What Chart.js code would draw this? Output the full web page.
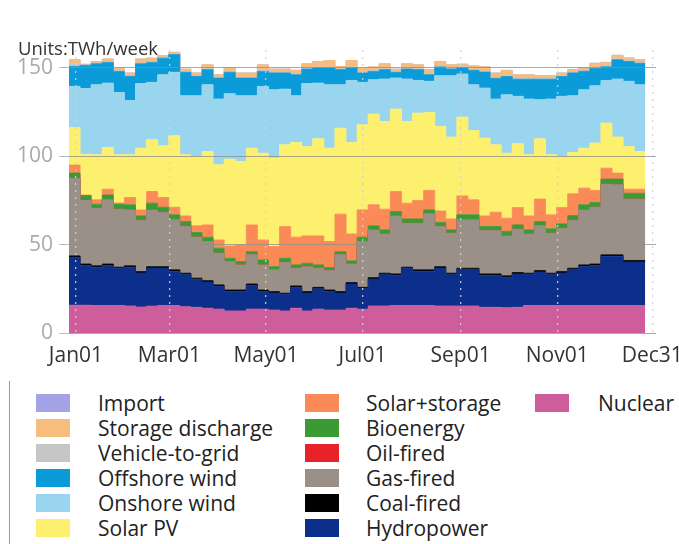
<!DOCTYPE html>
<html>
<head>
<meta charset="utf-8">
<script src="https://cdn.jsdelivr.net/npm/chart.js@4"></script>
<style>
  body { margin: 0; background: #fff; font-family: "Open Sans", sans-serif; }
  #wrap { position: relative; width: 679px; height: 544px; overflow: hidden; }
  #title { position: absolute; left: 18px; top: 35px; font-size: 18.5px; color: #333; }
  #chart { position: absolute; left: 0; top: 0; }
  #legend { position: absolute; left: 0; top: 0; }
  .item { position: absolute; height: 25px; line-height: 25px; font-size: 21px; color: #222; white-space: nowrap; }
  .box { position: absolute; width: 34px; height: 18px; top: 3px; }
  .lbl { position: absolute; }
  #rule { position: absolute; left: 9px; top: 381px; width: 1px; height: 163px; background: #999; }
</style>
</head>
<body>
<div id="wrap">
  <canvas id="chart" width="679" height="380"></canvas>
  <div id="title">Units:TWh/week</div>
  <div id="rule"></div>
  <div id="legend"></div>
</div>
<script>
// weekly values, TWh/week, 52 weeks from late Dec to late Dec
const nuclear = [15.7,15.7,15.5,15.5,15.5,15.3,14.7,15.2,15.5,15.5,14.8,14.5,14,13.5,12.5,12.5,13.5,13.5,
  13,12.5,14,12.5,13.5,13,13,14,13.5,15.3,15.3,15.5,15.5,15.5,15.5,15.3,15.3,
  15.3,15.3,14.5,14.5,14.3,14.5,15.5,15.5,15.5,15.5,15.5,15.5,15.5,15.5,15.5,15.5,15.5];
const hydropower = [27.1,22.5,21.7,22.7,20.9,21.9,19.2,21.5,21.2,19.4,18.2,15.7,14.8,12.9,11,11,13.4,10,
  9.6,9.2,11.8,10.1,11.5,10.5,9.6,13.7,11.5,15.2,17.7,17.1,20.9,19.4,19.4,21.4,17.7,
  20.5,20.5,18.1,18.1,17.2,18.9,17.5,19,17.5,18.4,20.3,22.2,22.7,27.9,27.9,24.7,24.7];
const coalFired = [0.8,0.8,0.8,0.8,0.8,0.8,0.8,0.8,0.8,0.8,0.8,0.8,0.8,0.8,0.8,0.8,0.8,0.8,
  0.8,0.8,0.8,0.8,0.8,0.8,0.8,0.8,0.8,0.8,0.8,0.8,0.8,0.8,0.8,0.8,0.8,
  0.8,0.8,0.8,0.8,0.8,0.8,0.8,0.8,0.8,0.8,0.8,0.8,0.8,0.8,0.8,0.8,0.8];
const gasFired = [43.9,36,32.6,36.3,32.8,31.6,28.9,32.1,30.6,28.3,26.4,23.2,22.1,17.9,16.1,14.2,16.5,14.2,
  12.3,17.3,10,14.1,10.8,11,20.8,10.5,25.9,27,22.2,32.8,24.8,26.3,31.7,22.7,22.6,
  27.4,27.4,24.5,24.5,22.6,24.5,22.2,25.3,22.6,24.5,27,31.1,32.1,40,39.6,34.7,34.7];
const oilFired = [0,0,0,0,0,0,0,0,0,0,0,0,0,0,0,0,0,0,
  0,0,0,0,0,0,0,0,0,0,0,0,0,0,0,0,0,
  0,0,0,0,0,0,0,0,0,0,0,0,0,0,0,0,0];
const bioenergy = [2.9,2.7,2.2,2.7,2.8,2.9,2.6,3.8,3,2.8,2.8,2.6,2.5,2.8,1.9,1.9,1.8,2.8,
  1.8,2.5,1.9,1.9,1.9,1.7,1.8,1.8,2.5,2.3,2.3,2.5,2.5,2.5,2.2,2.3,1.9,
  2.8,2.8,2.3,2.3,2.5,2.4,2.3,2.4,2.5,2.5,2.8,2.9,2.7,2.8,3.2,3.3,3.3];
const solarStorage = [4.6,0.3,2.5,3.3,0.7,4.1,3.4,6.6,5.5,4.3,3.2,3.8,6.9,4.7,6.9,9.4,15.1,11.3,
  11.4,17.9,15.7,15.5,16.4,14.7,21.2,15.2,15.4,11.9,11.7,11.3,8.9,10.4,11,6.5,6.2,
  10.7,8.5,6,8.1,7.5,9.8,7.9,12.7,7.9,9.2,12.3,9.4,6.8,6.2,3.4,2.3,2.3];
const solarPV = [21.2,23.1,25.5,23.6,27.3,24.2,34.9,29.2,29.2,40.4,34.6,39.2,41.5,42.5,49.1,47.2,43.4,49.1,
  50,46.2,53.5,50.6,54.9,52.8,48.6,51.7,48.1,51.3,49.6,46.6,46.2,49.4,44.1,47.8,46.3,
  44.6,39.2,44,38.1,36.8,36.1,34.6,34.1,34,28.9,23.4,22.6,26.8,25.5,20.4,24.2,21.3];
const onshoreWind = [23.2,37.1,39.6,36.4,35.2,30.7,36.5,32.5,40.2,35.9,33.4,34.4,37.8,37.2,37,37.2,29.7,37.7,
  38.6,31.5,26.5,35.5,31.5,35.9,24.6,35.1,24,19.4,24,17.6,24,18.5,17.6,28.7,34.7,
  24.4,25.9,28.3,25.9,33,26.8,31.5,22.1,31.5,34,32.1,33,32.4,24.1,32.8,36.8,37.8];
const offshoreWind = [11.3,13.1,11.8,11.7,11.9,13.6,11.2,11.3,9.4,10,13.2,10.9,8.5,11.8,12.1,9.9,9.9,8.5,
  9.5,9.1,11.8,8.2,8.5,9.4,8.5,7,5.3,4.7,5.3,3.2,5.6,6.1,3.7,4.9,3.7,
  3.5,8.1,9,11.7,10.3,9.7,11.2,11.6,11.2,11.2,12.8,10.5,9.7,7.7,10.9,11.2,12.1];
const vehicleToGrid = [1.5,0.5,0.5,0.5,0.5,0.5,0.5,0.5,0.5,0.5,0.5,0.5,0.5,0.5,0.5,0.5,0.5,0.5,
  0.5,0.5,0.5,0.5,0.5,0.5,0.5,0.5,0.5,0.5,0.5,0.5,0.5,0.5,0.5,0.5,0.5,
  0.5,0.5,0.5,0.5,0.5,0.5,0.5,0.5,0.5,0.5,0.5,0.5,0.5,0.5,0.5,0.5,0.5];
const storageDischarge = [2.3,0.1,0.8,1.4,1.4,1.4,2.2,1.9,0.9,0.8,1.3,1.4,2.2,1.4,1.9,2.4,2.4,3.2,
  1.7,1.7,2,2.5,3.2,3.7,1.3,3.7,2.3,2,2.8,1.3,2.5,2.2,2.4,2.6,1.9,
  1.5,2,2.5,2.5,3,2,2,1.5,1.5,1.5,1.5,1.5,2.5,2,2,1.5,1.5];
const importFlow = [0,0,0,0,0,0,0,0,0,0,0,0,0,0,0,0,0,0,
  0,0,0,0,0,0,0,0,0,0,0,0,0,0,0,0,0,
  0,0,0,0,0,0,0,0,0,0,0,0,0,0,0,0,0];

// x axis in day-of-year, week i starts at firstWeekDay + 7*i
const firstWeekDay = -4.4;
const xTickDays = [0, 59, 120, 181, 243, 304, 364];
const xTickLabels = ["Jan01", "Mar01", "May01", "Jul01", "Sep01", "Nov01", "Dec31"];
const yTicks = [0, 50, 100, 150];

// bottom of stack first
const series = [
  { name: "Nuclear", values: nuclear, color: "#cd5e9b" },
  { name: "Hydropower", values: hydropower, color: "#0b2f8b" },
  { name: "Coal-fired", values: coalFired, color: "#000000" },
  { name: "Gas-fired", values: gasFired, color: "#9b9088" },
  { name: "Oil-fired", values: oilFired, color: "#e8222b" },
  { name: "Bioenergy", values: bioenergy, color: "#3a9b35" },
  { name: "Solar+storage", values: solarStorage, color: "#fa8a57" },
  { name: "Solar PV", values: solarPV, color: "#fdf06e" },
  { name: "Onshore wind", values: onshoreWind, color: "#9ad5ef" },
  { name: "Offshore wind", values: offshoreWind, color: "#0b9bd8" },
  { name: "Vehicle-to-grid", values: vehicleToGrid, color: "#c6c6c6" },
  { name: "Storage discharge", values: storageDischarge, color: "#f6bd7e" },
  { name: "Import", values: importFlow, color: "#a3a3e6" }
];

function toPoints(values) {
  const pts = values.map((v, i) => ({ x: firstWeekDay + 7 * i, y: v }));
  pts.push({ x: firstWeekDay + 7 * values.length, y: values[values.length - 1] });
  return pts;
}

const datasets = series.map((s, i) => ({
  label: s.name,
  data: toPoints(s.values),
  backgroundColor: s.color,
  borderColor: s.color,
  borderWidth: 0.8,
  pointRadius: 0,
  stepped: "before",
  fill: i === 0 ? "origin" : "-1"
}));

new Chart(document.getElementById("chart"), {
  type: "line",
  data: { datasets: datasets },
  options: {
    responsive: false,
    animation: false,
    layout: { padding: { top: 50, right: 23, left: 0, bottom: 0 } },
    plugins: { legend: { display: false }, tooltip: { enabled: false } },
    scales: {
      x: {
        type: "linear",
        min: -4.4,
        max: 366.4,
        afterBuildTicks: (scale) => { scale.ticks = xTickDays.map(v => ({ value: v })); },
        afterFit: (scale) => {
          scale.height = 47;
          scale.paddingLeft = 0;
          scale.paddingRight = 0;
        },
        border: { display: false, dash: [2, 5] },
        grid: { z: 1, color: "rgba(210,210,210,0.9)", lineWidth: 1.3, drawTicks: false },
        ticks: {
          autoSkip: false,
          maxRotation: 0,
          padding: 10,
          color: "#333",
          font: { family: "Open Sans", size: 21 },
          callback: (value, index) => xTickLabels[index]
        }
      },
      y: {
        stacked: true,
        min: 0,
        max: 160,
        afterBuildTicks: (scale) => { scale.ticks = yTicks.map(v => ({ value: v })); },
        afterFit: (scale) => { scale.width = 69; },
        border: { display: false },
        grid: { z: 1, color: "rgba(140,140,140,0.75)", lineWidth: 1, tickLength: 10, tickColor: "#bbb" },
        ticks: {
          padding: 6,
          color: "#aaa",
          font: { family: "Open Sans", size: 21 }
        }
      }
    }
  }
});

// legend: top of stack first, six per column
const legend = document.getElementById("legend");
const colBox = [36, 305, 535];
const colText = [98, 366, 598];
const rowTop = 391;
const rowStep = 25;
series.slice().reverse().forEach((s, k) => {
  const col = Math.floor(k / 6), row = k % 6;
  const item = document.createElement("div");
  item.className = "item";
  item.style.left = "0px";
  item.style.top = (rowTop + row * rowStep) + "px";
  const box = document.createElement("div");
  box.className = "box";
  box.style.left = colBox[col] + "px";
  box.style.background = s.color;
  const lbl = document.createElement("div");
  lbl.className = "lbl";
  lbl.style.left = colText[col] + "px";
  lbl.textContent = s.name;
  item.appendChild(box);
  item.appendChild(lbl);
  legend.appendChild(item);
});
</script>
</body>
</html>
